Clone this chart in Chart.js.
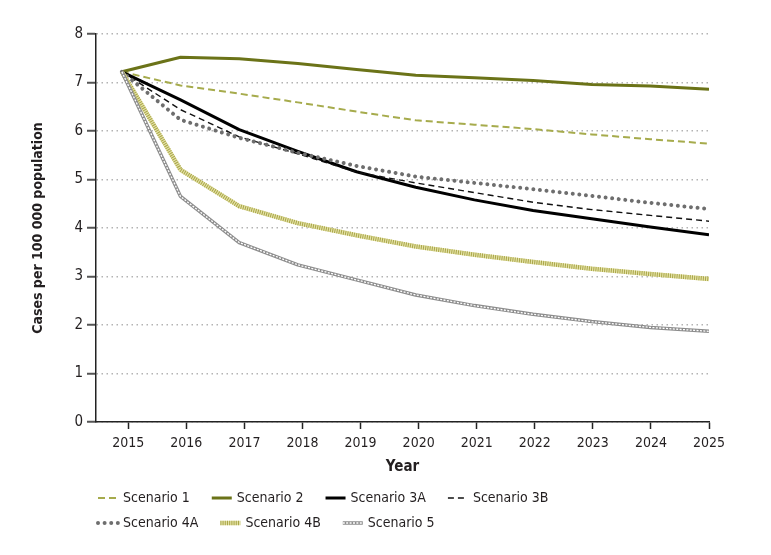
<!DOCTYPE html>
<html>
<head>
<meta charset="utf-8">
<title>Cases per 100 000 population by scenario</title>
<script src="https://cdn.jsdelivr.net/npm/chart.js@4.4.1/dist/chart.umd.min.js"></script>
<style>
  html, body { margin: 0; padding: 0; background: #fff; }
  #wrap { width: 771px; height: 555px; }
</style>
</head>
<body>
<div id="wrap"><canvas id="chart" width="771" height="555"></canvas></div>
<script>
// tick labels on the year axis
const yearTicks = [2015, 2016, 2017, 2018, 2019, 2020, 2021, 2022, 2023, 2024, 2025];
// where the points sit on that axis
const pointYears = [2014.89, 2015.9, 2016.91, 2017.92, 2018.93, 2019.95, 2020.96, 2021.97, 2022.98, 2023.99, 2025];
const yTicks = [0, 1, 2, 3, 4, 5, 6, 7, 8];

const scenarioNames = ["Scenario 1", "Scenario 2", "Scenario 3A", "Scenario 3B", "Scenario 4A", "Scenario 4B", "Scenario 5"];

const scen1  = [7.22, 6.94, 6.77, 6.59, 6.40, 6.22, 6.13, 6.04, 5.93, 5.83, 5.74];
const scen2  = [7.22, 7.52, 7.49, 7.39, 7.27, 7.15, 7.10, 7.04, 6.96, 6.93, 6.86];
const scen3A = [7.22, 6.64, 6.03, 5.58, 5.16, 4.84, 4.58, 4.36, 4.19, 4.02, 3.86];
const scen3B = [7.22, 6.44, 5.88, 5.53, 5.15, 4.93, 4.73, 4.53, 4.38, 4.26, 4.14];
const scen4A = [7.22, 6.23, 5.86, 5.55, 5.28, 5.06, 4.93, 4.80, 4.66, 4.52, 4.39];
const scen4B = [7.22, 5.20, 4.45, 4.10, 3.85, 3.62, 3.45, 3.30, 3.16, 3.05, 2.95];
const scen5  = [7.22, 4.65, 3.70, 3.24, 2.93, 2.62, 2.40, 2.22, 2.07, 1.95, 1.87];

const FONT = "'Liberation Sans Narrow', 'DejaVu Sans Condensed', 'Open Sans', sans-serif";
const TEXT = "#231f20";

function pts(values) {
    return values.map((v, i) => ({ x: pointYears[i], y: v }));
}

function line(label, values, style, legendKey) {
    return Object.assign({
        label: label,
        data: pts(values),
        pointRadius: 0,
        tension: 0,
        fill: false,
        borderCapStyle: "butt",
        borderJoinStyle: "round",
        legendKey: legendKey
    }, style);
}

const datasets = [
    line(scenarioNames[0], scen1, { borderColor: "#a6ab4c", borderWidth: 2, borderDash: [7, 4] }, 0),
    line(scenarioNames[1], scen2, { borderColor: "#6b7318", borderWidth: 3 }, 1),
    line(scenarioNames[2], scen3A, { borderColor: "#000000", borderWidth: 3 }, 2),
    line(scenarioNames[3], scen3B, { borderColor: "#111111", borderWidth: 1.4, borderDash: [6, 4] }, 3),
    line(scenarioNames[4], scen4A, { borderColor: "#6e6e6e", borderWidth: 4, borderDash: [0.01, 6.6], borderCapStyle: "round" }, 4),
    // 4B: light base with olive stripes on top
    line(scenarioNames[5], scen4B, { borderColor: "#e4e2a6", borderWidth: 4.5 }, 5),
    line(scenarioNames[5], scen4B, { borderColor: "#a9a548", borderWidth: 4.5, borderDash: [1, 1.2] }, 5),
    // 5: grey outline with a broken white core
    line(scenarioNames[6], scen5, { borderColor: "#8d8d8d", borderWidth: 3.5 }, 6),
    line(scenarioNames[6], scen5, { borderColor: "#ffffff", borderWidth: 1.3, borderDash: [2, 1.4] }, 6)
];
// draw later datasets on top (chart.js paints lower "order" last)
datasets.forEach((d, i) => { d.order = datasets.length - i; });

// legend drawn by hand so that row spacing matches the figure
const legendPlugin = {
    id: "flowLegend",
    afterDraw(chart) {
        const ctx = chart.ctx;
        const startX = 98;
        const rowY = [498, 523];
        const sampleW = 20;
        const gap = 5;
        const spacing = 22;
        const breakAfter = 3;
        ctx.save();
        ctx.font = "14px " + FONT;
        ctx.textBaseline = "middle";
        ctx.fillStyle = TEXT;
        let x = startX;
        let row = 0;
        scenarioNames.forEach((name, k) => {
            const y = rowY[row];
            chart.data.datasets.filter(d => d.legendKey === k).forEach(d => {
                ctx.save();
                ctx.strokeStyle = d.borderColor;
                ctx.lineWidth = d.borderWidth;
                ctx.lineCap = d.borderCapStyle;
                ctx.setLineDash(d.borderDash || []);
                ctx.beginPath();
                ctx.moveTo(x, y);
                ctx.lineTo(x + sampleW, y);
                ctx.stroke();
                ctx.restore();
            });
            ctx.fillStyle = TEXT;
            ctx.fillText(name, x + sampleW + gap, y);
            x += sampleW + gap + ctx.measureText(name).width + spacing;
            if (k === breakAfter) { row++; x = startX; }
        });
        ctx.restore();
    }
};

Chart.defaults.font.family = FONT;
Chart.defaults.color = TEXT;

new Chart(document.getElementById("chart"), {
    type: "line",
    data: { datasets: datasets },
    plugins: [legendPlugin],
    options: {
        responsive: false,
        animation: false,
        devicePixelRatio: 1,
        layout: { padding: { left: 0, right: 62, top: 34, bottom: 63 } },
        plugins: {
            legend: { display: false },
            tooltip: { enabled: false }
        },
        scales: {
            x: {
                type: "linear",
                min: 2014.444,
                max: 2025,
                afterBuildTicks: s => { s.ticks = yearTicks.map(v => ({ value: v })); },
                afterFit: s => { s.height = 70; },
                ticks: {
                    autoSkip: false,
                    maxRotation: 0,
                    padding: 6,
                    font: { size: 14 },
                    color: TEXT,
                    callback: v => String(v)
                },
                grid: {
                    drawOnChartArea: false,
                    drawTicks: true,
                    tickLength: 7,
                    tickColor: "#222",
                    tickWidth: 1.5
                },
                border: { display: true, color: "#222", width: 1.5 },
                title: {
                    display: true,
                    text: "Year",
                    font: { size: 15, weight: "bold" },
                    color: TEXT,
                    padding: { top: 0, bottom: 16 }
                }
            },
            y: {
                min: 0,
                max: 8,
                afterBuildTicks: s => { s.ticks = yTicks.map(v => ({ value: v })); },
                afterFit: s => { s.width = 96; },
                ticks: {
                    padding: 4,
                    font: { size: 15 },
                    color: TEXT
                },
                grid: {
                    color: "#b3b3b3",
                    lineWidth: 1.5,
                    tickLength: 9,
                    tickColor: "#555",
                    tickWidth: 2,
                    tickBorderDash: []
                },
                border: { display: true, color: "#222", width: 1.5, dash: [1.5, 3.5] },
                title: {
                    display: true,
                    text: "Cases per 100 000 population",
                    font: { size: 14, weight: "bold" },
                    color: TEXT,
                    padding: { top: 30, bottom: 0 }
                }
            }
        }
    }
});
</script>
</body>
</html>
